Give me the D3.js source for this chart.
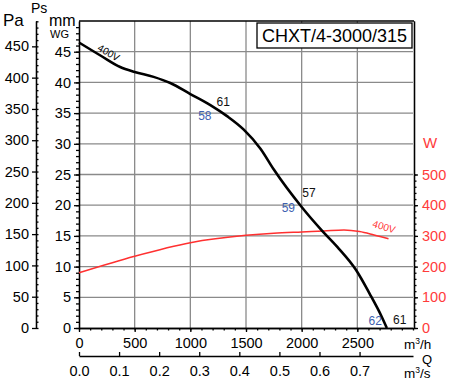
<!DOCTYPE html>
<html><head><meta charset="utf-8">
<script src="https://cdn.jsdelivr.net/npm/d3@7"></script>
<style>
html,body{margin:0;padding:0;background:#fff;}
svg{display:block;font-family:"Liberation Sans",Arial,sans-serif;}
</style></head><body>
<svg id="c" width="450" height="382"></svg>
<script>
// ---- data ----
const flowM3h = [0, 200, 370, 500, 670, 820, 1000, 1180, 1330, 1480, 1630, 1750, 2000, 2180, 2320, 2490, 2610, 2720, 2765];
const pressureMM = [46.5, 44.3, 42.5, 41.7, 40.9, 39.9, 38.1, 36.3, 34.5, 32.3, 29.2, 25.8, 19.7, 15.9, 13.2, 9.4, 5.6, 1.8, 0];
const powerFlow = [0, 500, 1000, 1500, 1750, 2000, 2200, 2380, 2520, 2650, 2780];
const powerW = [180, 234, 278, 302, 309, 313, 316, 319, 314, 303, 291];
const xTicks = [0, 500, 1000, 1500, 2000, 2500];
const xsTicks = [0, 0.1, 0.2, 0.3, 0.4, 0.5, 0.6, 0.7];
const mmTicks = [0, 5, 10, 15, 20, 25, 30, 35, 40, 45];
const paTicks = [0, 50, 100, 150, 200, 250, 300, 350, 400, 450];
const wTicks = [0, 100, 200, 300, 400, 500];
const title = "CHXT/4-3000/315";
const noiseText = ["61", "58", "57", "59", "62", "61"];
const noiseFlow = [1235, 1070, 2005, 1820, 2600, 2820];
const noiseMM = [36.2, 33.8, 21.3, 18.9, 0.5, 0.65];
const noiseColor = ["#111", "#3d5fb0", "#111", "#3d5fb0", "#3d5fb0", "#111"];

const L = 79, R = 413, T = 21, B = 328;
const x = d3.scaleLinear().domain([0, 3000]).range([L, R]);
const xs = d3.scaleLinear().domain([0, 3000 / 3600]).range([L, R]);
const yMM = d3.scaleLinear().domain([0, 50]).range([B, T]);
const yPa = d3.scaleLinear().domain([0, 50 * 9.81]).range([B, T]);
const yW = d3.scaleLinear().domain([0, 1000]).range([B, T]);

const svg = d3.select("#c");
const FS = "14.5px";

// grid
const grid = svg.append("g").attr("stroke", "#8a8a8a").attr("stroke-width", 1.3);
d3.range(5, 50, 5).forEach(v => grid.append("line").attr("x1", L).attr("x2", R).attr("y1", yMM(v)).attr("y2", yMM(v)));
d3.range(500, 3000, 500).forEach(v => grid.append("line").attr("y1", T).attr("y2", B).attr("x1", x(v)).attr("x2", x(v)));

// frame top
svg.append("line").attr("x1", L).attr("x2", R + 1).attr("y1", T).attr("y2", T).attr("stroke", "#000").attr("stroke-width", 1.3);

function styleAxis(g, color) {
  g.selectAll("path,line").attr("stroke", color).attr("stroke-width", 1.3);
  g.selectAll("text").attr("fill", color).style("font-size", FS).attr("font-family", "Liberation Sans, Arial, sans-serif");
}

// mm axis
const gmm = svg.append("g").attr("transform", `translate(${L},0)`)
  .call(d3.axisLeft(yMM).tickValues(mmTicks).tickSize(5).tickSizeOuter(0).tickPadding(3).tickFormat(d3.format("d")));
styleAxis(gmm, "#000");
const gmm2 = svg.append("g").attr("transform", `translate(${L},0)`)
  .call(d3.axisLeft(yMM).tickValues(d3.range(0, 50, 1)).tickSize(3).tickSizeOuter(0).tickFormat(""));
styleAxis(gmm2, "#000");

// Pa axis
const PAX = 36;
const gpa = svg.append("g").attr("transform", `translate(${PAX},0)`)
  .call(d3.axisLeft(yPa).tickValues(paTicks).tickSize(4).tickSizeOuter(0).tickPadding(3).tickFormat(d3.format("d")));
styleAxis(gpa, "#000");
const gpa2 = svg.append("g").attr("transform", `translate(${PAX},0)`)
  .call(d3.axisRight(yPa).tickValues(d3.range(0, 491, 10)).tickSize(2.5).tickSizeOuter(0).tickFormat(""));
styleAxis(gpa2, "#000");

// W axis (right)
const gw = svg.append("g").attr("transform", `translate(${R + 1},0)`)
  .call(d3.axisRight(yW).tickValues(wTicks).tickSize(4).tickSizeOuter(0).tickPadding(4).tickFormat(d3.format("d")));
styleAxis(gw, "#000");
gw.selectAll("text").attr("fill", "#ff3b3b");
const gw2 = svg.append("g").attr("transform", `translate(${R + 1},0)`)
  .call(d3.axisRight(yW).tickValues(d3.range(0, 501, 20)).tickSize(2.5).tickSizeOuter(0).tickFormat(""));
styleAxis(gw2, "#000");

// bottom m3/h axis
const gx = svg.append("g").attr("transform", `translate(0,${B})`)
  .call(d3.axisBottom(x).tickValues(xTicks).tickSize(4).tickSizeOuter(0).tickPadding(6).tickFormat(d3.format("d")));
styleAxis(gx, "#000");
const gx2 = svg.append("g").attr("transform", `translate(0,${B})`)
  .call(d3.axisBottom(x).tickValues(d3.range(0, 3001, 100)).tickSize(2.5).tickSizeOuter(0).tickFormat(""));
styleAxis(gx2, "#000");

// m3/s axis
const gs = svg.append("g").attr("transform", `translate(0,356)`)
  .call(d3.axisBottom(xs).tickValues(xsTicks).tickSize(-4).tickSizeOuter(0).tickPadding(10).tickFormat(d3.format(".1f")));
styleAxis(gs, "#000");

// curves
const line = d3.line().curve(d3.curveMonotoneX);
svg.append("path")
  .attr("d", line(powerFlow.map((q, i) => [x(q), yW(powerW[i])])))
  .attr("fill", "none").attr("stroke", "#ff3030").attr("stroke-width", 1.5);
svg.append("path")
  .attr("d", line(flowM3h.map((q, i) => [x(q), yMM(pressureMM[i])])))
  .attr("fill", "none").attr("stroke", "#000").attr("stroke-width", 2.6);

// curve labels
svg.append("text").attr("transform", `translate(${x(160)},${yMM(45.3)}) rotate(30)`)
  .style("font-size", "10px").attr("fill", "#000").text("400V");
svg.append("text").attr("transform", `translate(${x(2630)},${yW(330)}) rotate(17)`)
  .style("font-size", "10px").attr("fill", "#ff3030").text("400V");

// noise labels
noiseText.forEach((s, i) => {
  svg.append("text").attr("x", x(noiseFlow[i])).attr("y", yMM(noiseMM[i]))
    .style("font-size", "12px").attr("fill", noiseColor[i]).text(s);
});

// title box
svg.append("rect").attr("x", 257).attr("y", 23).attr("width", 155).attr("height", 25)
  .attr("fill", "#fff").attr("stroke", "#000").attr("stroke-width", 1.3);
svg.append("text").attr("x", 334.5).attr("y", 42).attr("text-anchor", "middle")
  .style("font-size", "18px").attr("fill", "#000").text(title);

// axis titles
const t = (txt, xx, yy, size, color, anchor) => svg.append("text").attr("x", xx).attr("y", yy)
  .attr("text-anchor", anchor || "start").style("font-size", size).attr("fill", color || "#000").text(txt);
t("Ps", 31, 13, "14px");
t("Pa", 3, 26, "17px");
t("mm", 49, 26, "16px");
t("WG", 50, 38, "11px");
t("W", 430, 148, "15px", "#ff3b3b", "middle");
svg.append("text").attr("x", 404).attr("y", 349).style("font-size", "13.5px")
  .html('m<tspan dy="-5" font-size="8.5px">3</tspan><tspan dy="5">/h</tspan>');
t("Q", 427, 364, "13px", "#000", "middle");
svg.append("text").attr("x", 404).attr("y", 378).style("font-size", "13.5px")
  .html('m<tspan dy="-5" font-size="8.5px">3</tspan><tspan dy="5">/s</tspan>');
</script>
</body></html>
